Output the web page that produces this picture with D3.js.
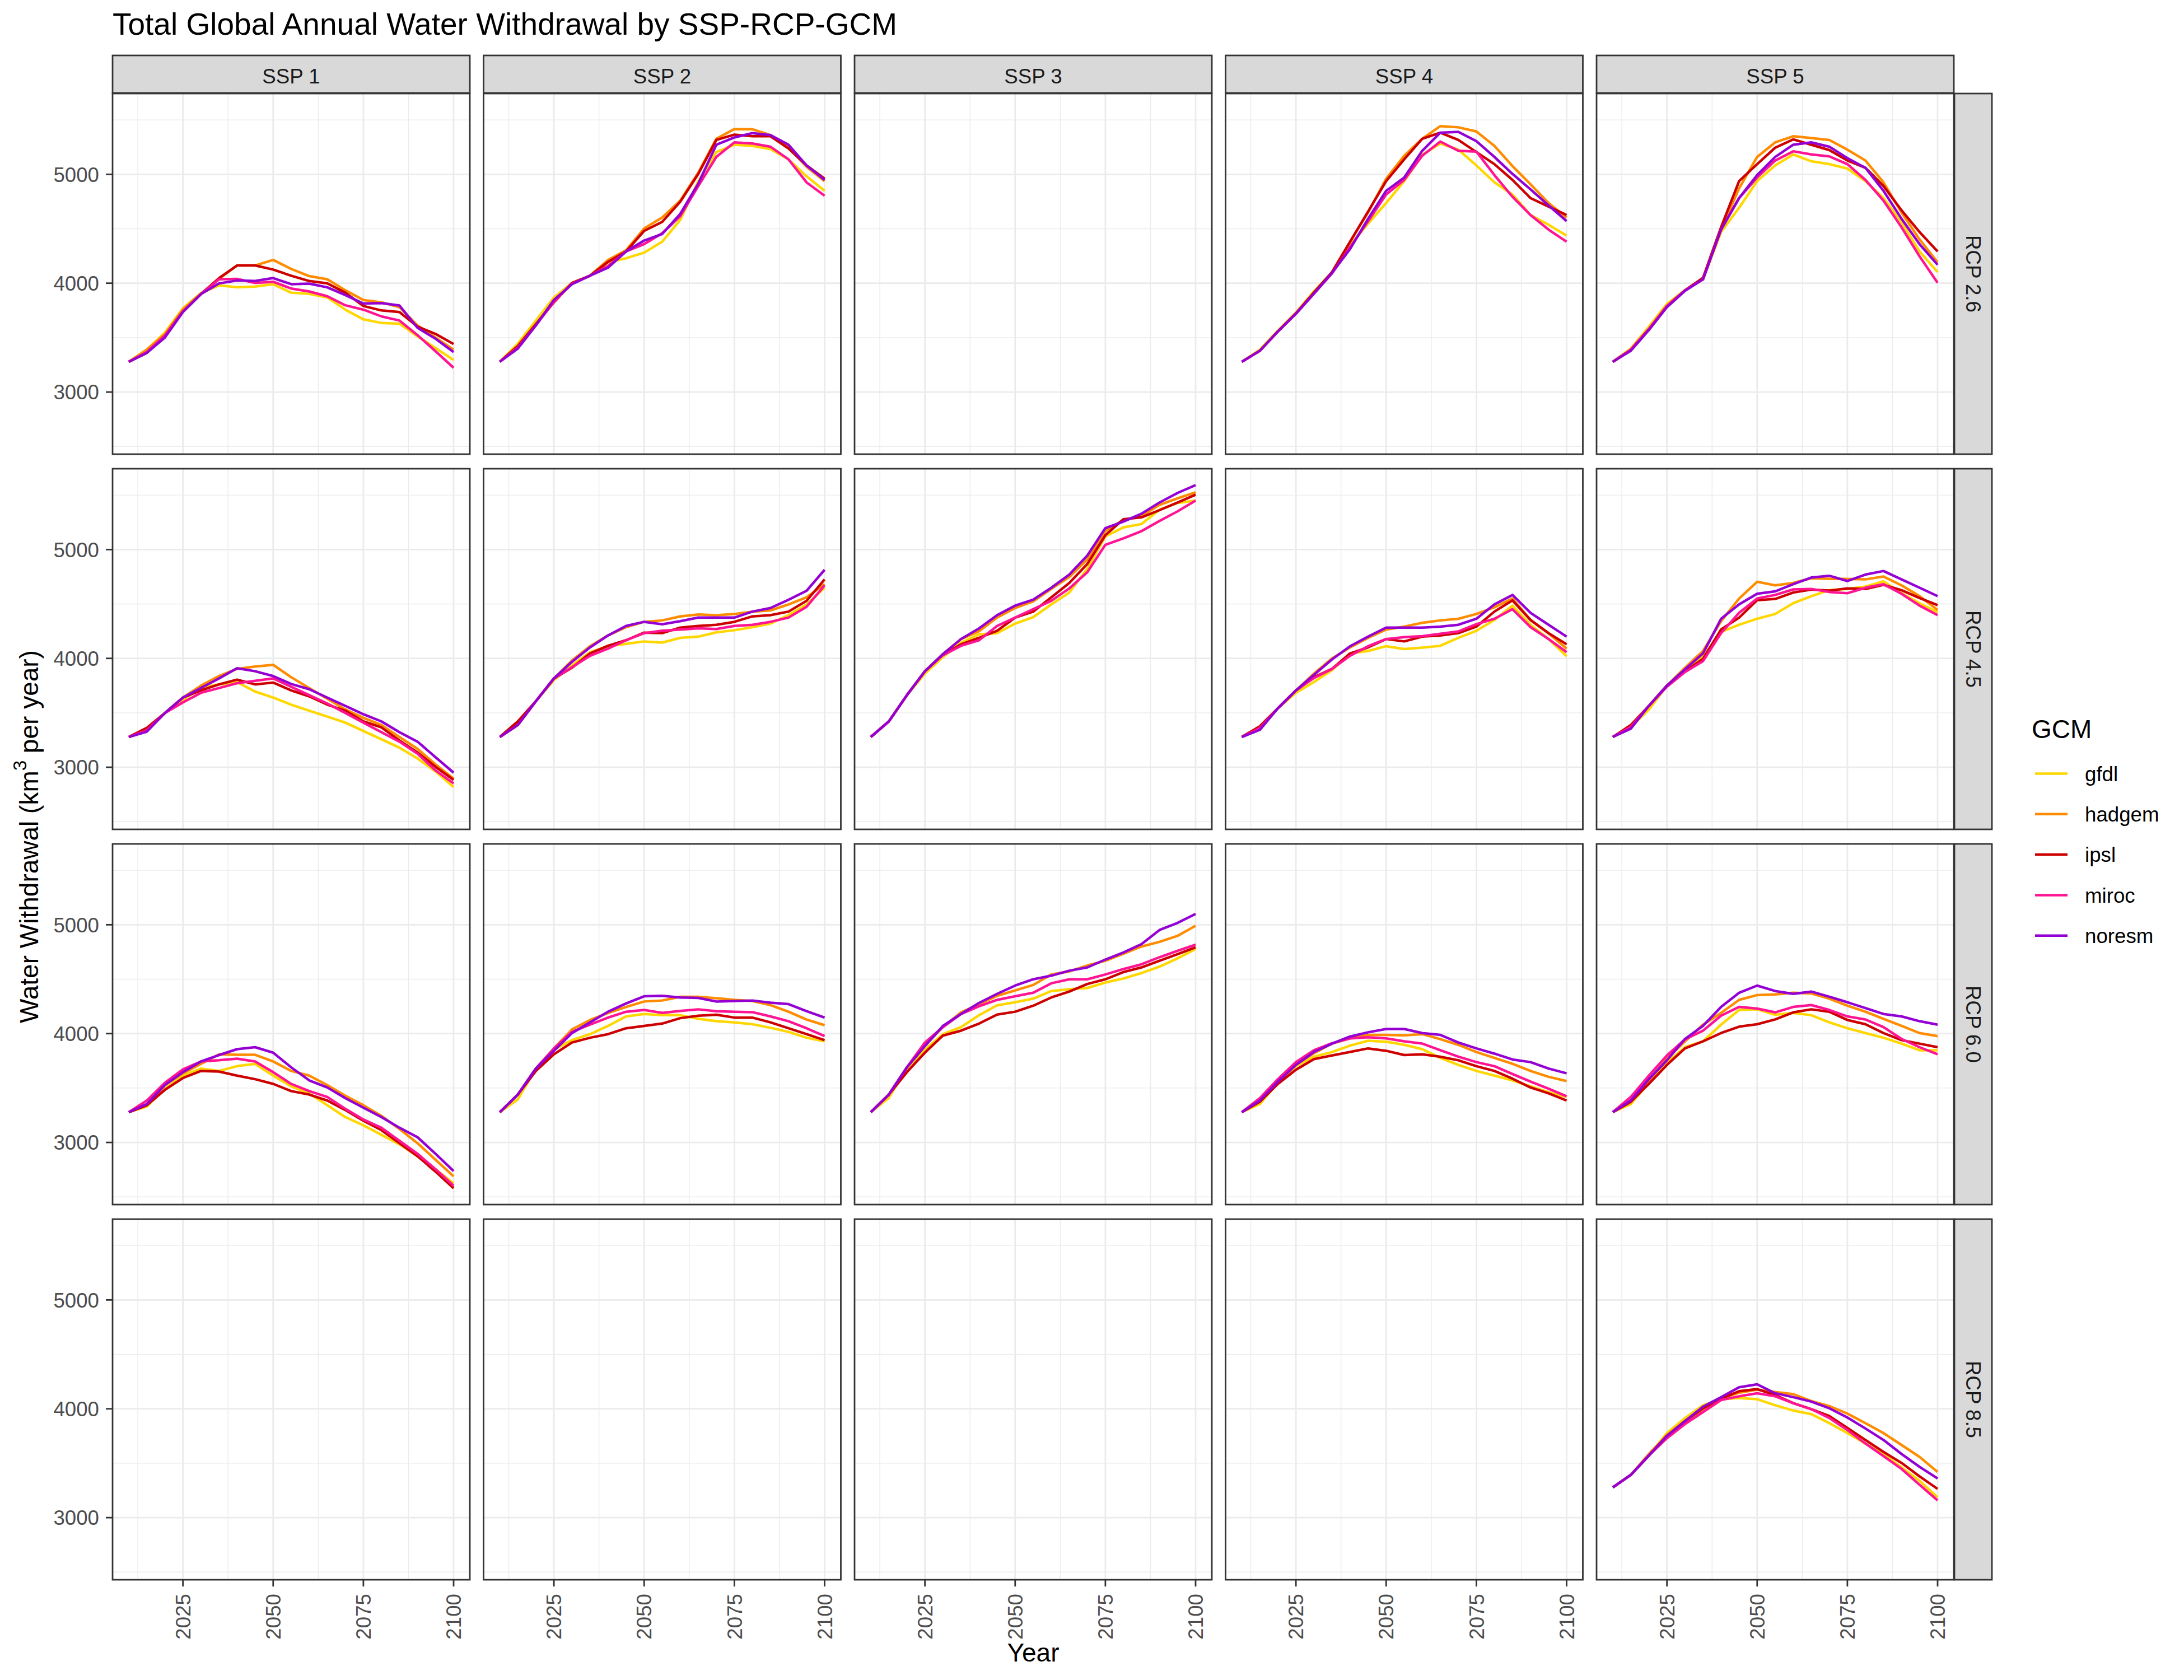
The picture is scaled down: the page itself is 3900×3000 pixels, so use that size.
<!DOCTYPE html>
<html><head><meta charset="utf-8">
<script src="https://cdn.jsdelivr.net/npm/d3@7"></script>
<style>body{margin:0;background:#fff}svg{display:block}</style>
</head><body>
<script>
// ---------------- data ----------------
const years = [2010,2015,2020,2025,2030,2035,2040,2045,2050,2055,2060,2065,2070,2075,2080,2085,2090,2095,2100];
const gcms = ["gfdl","hadgem","ipsl","miroc","noresm"];
const gcmColors = ["#FFD700","#FF8C00","#CD0000","#FF1493","#9400D3"];
const ssps = ["SSP 1","SSP 2","SSP 3","SSP 4","SSP 5"];
const rcps = ["RCP 2.6","RCP 4.5","RCP 6.0","RCP 8.5"];
const xTicks = [2025,2050,2075,2100];
const xMinor = [2012.5,2037.5,2062.5,2087.5];
const yTicks = [3000,4000,5000];
const yMinor = [2500,3500,4500,5500];

const SSP1_RCP26 = {
  gfdl:   [3278,3390,3546,3768,3910,3980,3962,3969,3991,3913,3902,3869,3757,3668,3635,3628,3512,3405,3294],
  hadgem: [3278,3390,3530,3760,3905,4040,4163,4163,4214,4131,4065,4036,3935,3846,3824,3780,3612,3500,3390],
  ipsl:   [3278,3360,3520,3740,3900,4047,4163,4163,4125,4069,4020,3998,3913,3791,3750,3735,3601,3534,3441],
  miroc:  [3278,3367,3520,3740,3900,4036,4040,4002,4013,3951,3924,3880,3797,3757,3695,3657,3523,3375,3223],
  noresm: [3278,3360,3501,3735,3900,3998,4025,4020,4047,3991,3996,3962,3891,3813,3817,3795,3590,3490,3367]
};
const SSP2_RCP26 = {
  gfdl:   [3278,3445,3657,3869,4002,4069,4192,4229,4281,4381,4581,4938,5205,5272,5261,5232,5138,4982,4849],
  hadgem: [3278,3423,3624,3830,4002,4069,4214,4303,4503,4604,4759,5016,5327,5416,5414,5361,5250,5070,4938],
  ipsl:   [3278,3423,3624,3824,4002,4069,4196,4292,4481,4563,4748,5004,5316,5365,5350,5350,5238,5082,4960],
  miroc:  [3278,3410,3615,3830,3995,4069,4158,4292,4359,4459,4615,4893,5160,5294,5283,5254,5138,4926,4804],
  noresm: [3278,3400,3612,3846,3991,4069,4143,4292,4392,4452,4637,4915,5272,5339,5379,5361,5272,5082,4949]
};
const SSP4_RCP26 = {
  gfdl:   [3278,3390,3565,3730,3925,4100,4350,4548,4737,4938,5180,5283,5227,5082,4927,4815,4626,4537,4437],
  hadgem: [3278,3380,3557,3724,3915,4102,4380,4650,4960,5171,5327,5443,5432,5394,5261,5076,4909,4737,4603],
  ipsl:   [3278,3379,3557,3724,3915,4102,4381,4659,4938,5138,5327,5383,5316,5205,5094,4949,4782,4704,4626],
  miroc:  [3278,3379,3557,3720,3905,4090,4330,4570,4815,4949,5171,5301,5216,5209,4993,4794,4626,4492,4381],
  noresm: [3278,3379,3557,3720,3905,4095,4314,4592,4849,4971,5216,5383,5390,5305,5160,5004,4862,4715,4570]
};
const SSP5_RCP26 = {
  gfdl:   [3278,3400,3600,3810,3935,4036,4470,4693,4938,5082,5183,5120,5094,5053,4938,4782,4560,4292,4102],
  hadgem: [3278,3390,3579,3791,3935,4036,4492,4871,5160,5294,5350,5334,5316,5227,5127,4927,4650,4403,4192],
  ipsl:   [3278,3390,3579,3791,3935,4050,4514,4938,5094,5245,5321,5272,5223,5127,5060,4893,4670,4470,4292],
  miroc:  [3278,3390,3579,3791,3935,4036,4492,4782,4971,5127,5212,5183,5165,5094,4949,4759,4514,4247,4004],
  noresm: [3278,3380,3570,3780,3930,4036,4492,4782,4993,5160,5272,5294,5254,5149,5060,4849,4592,4359,4169]
};
const SSP1_RCP45 = {
  gfdl:   [3278,3340,3498,3620,3730,3761,3783,3695,3640,3575,3520,3465,3410,3333,3257,3180,3081,2961,2818],
  hadgem: [3278,3345,3498,3640,3750,3838,3904,3925,3941,3827,3728,3629,3531,3454,3388,3278,3169,3026,2895],
  ipsl:   [3278,3362,3498,3640,3706,3761,3805,3761,3778,3706,3651,3575,3520,3421,3366,3246,3136,3004,2884],
  miroc:  [3278,3340,3498,3596,3684,3728,3772,3794,3816,3739,3662,3586,3498,3410,3322,3235,3125,2971,2851],
  noresm: [3278,3327,3498,3640,3728,3816,3910,3882,3838,3765,3717,3640,3564,3487,3421,3322,3235,3092,2950]
};
const SSP2_RCP45 = {
  gfdl:   [3278,3388,3607,3800,3936,4057,4112,4134,4156,4145,4189,4200,4239,4259,4287,4320,4397,4496,4649],
  hadgem: [3278,3388,3607,3816,3980,4112,4211,4287,4336,4349,4386,4404,4397,4408,4430,4441,4496,4561,4682],
  ipsl:   [3278,3421,3607,3816,3914,4046,4116,4167,4237,4232,4283,4298,4309,4336,4386,4397,4430,4529,4726],
  miroc:  [3278,3388,3607,3816,3919,4024,4090,4167,4232,4254,4265,4276,4270,4298,4309,4336,4375,4474,4671],
  noresm: [3278,3388,3607,3816,3969,4101,4211,4298,4336,4314,4342,4375,4375,4375,4430,4463,4539,4621,4814]
};
const SSP3_RCP45 = {
  gfdl:   [3278,3421,3662,3860,4013,4145,4221,4232,4320,4379,4496,4605,4825,5121,5204,5235,5366,5428,5450],
  hadgem: [3278,3421,3662,3882,4040,4178,4250,4375,4463,4524,4638,4748,4910,5170,5274,5307,5410,5471,5526],
  ipsl:   [3278,3421,3662,3882,4035,4129,4189,4254,4375,4430,4561,4693,4868,5132,5278,5296,5362,5432,5504],
  miroc:  [3278,3421,3662,3882,4030,4116,4167,4298,4375,4452,4529,4643,4792,5044,5103,5169,5263,5351,5450],
  noresm: [3278,3421,3662,3882,4040,4178,4276,4397,4485,4539,4649,4770,4945,5197,5257,5329,5432,5520,5592]
};
const SSP4_RCP45 = {
  gfdl:   [3278,3370,3542,3684,3783,3893,4046,4068,4112,4086,4099,4116,4189,4254,4353,4485,4309,4178,4020],
  hadgem: [3278,3370,3542,3706,3860,4000,4101,4189,4265,4292,4327,4349,4364,4408,4470,4550,4353,4230,4090],
  ipsl:   [3278,3377,3542,3706,3827,3904,4046,4101,4178,4156,4200,4211,4232,4292,4430,4533,4353,4232,4129],
  miroc:  [3278,3360,3542,3706,3820,3904,4024,4112,4178,4195,4204,4226,4248,4314,4364,4452,4287,4178,4057],
  noresm: [3278,3344,3542,3706,3849,3991,4112,4200,4283,4283,4283,4292,4309,4364,4496,4583,4419,4309,4200]
};
const SSP5_RCP45 = {
  gfdl:   [3278,3370,3530,3750,3900,4018,4243,4309,4364,4408,4507,4572,4627,4638,4660,4708,4599,4507,4424],
  hadgem: [3278,3370,3564,3750,3914,4068,4342,4550,4704,4671,4693,4737,4730,4730,4726,4752,4671,4572,4445],
  ipsl:   [3278,3388,3564,3750,3882,3996,4265,4375,4535,4546,4605,4632,4623,4643,4638,4676,4627,4555,4489],
  miroc:  [3278,3370,3564,3740,3875,3975,4232,4419,4550,4583,4634,4638,4610,4599,4649,4682,4594,4485,4397],
  noresm: [3278,3355,3564,3750,3900,4046,4364,4496,4594,4616,4682,4743,4759,4711,4770,4803,4726,4649,4572]
};
const SSP1_RCP60 = {
  gfdl:   [3278,3331,3494,3614,3679,3657,3701,3722,3614,3516,3450,3342,3233,3157,3070,2983,2874,2754,2624],
  hadgem: [3278,3342,3527,3635,3722,3810,3805,3805,3744,3657,3614,3527,3429,3342,3244,3124,2993,2841,2689],
  ipsl:   [3278,3342,3483,3592,3657,3651,3614,3581,3538,3472,3440,3385,3298,3200,3113,2993,2874,2732,2580],
  miroc:  [3278,3385,3548,3672,3744,3755,3770,3744,3646,3538,3472,3418,3309,3211,3135,3015,2896,2754,2602],
  noresm: [3278,3353,3527,3646,3744,3803,3857,3875,3825,3690,3570,3505,3407,3320,3233,3135,3048,2896,2737]
};
const SSP2_RCP60 = {
  gfdl:   [3278,3396,3679,3853,3940,3995,4071,4158,4180,4169,4169,4136,4114,4103,4086,4053,4016,3962,3929],
  hadgem: [3278,3440,3679,3864,4038,4125,4190,4245,4295,4304,4338,4338,4325,4310,4299,4262,4201,4129,4077],
  ipsl:   [3278,3440,3657,3810,3918,3962,3995,4049,4071,4092,4142,4164,4173,4147,4147,4103,4049,3995,3940],
  miroc:  [3278,3440,3679,3864,4016,4082,4147,4201,4217,4190,4208,4223,4206,4201,4197,4158,4114,4049,3977],
  noresm: [3278,3440,3679,3842,4005,4103,4201,4277,4343,4347,4332,4328,4295,4299,4304,4284,4271,4206,4147]
};
const SSP3_RCP60 = {
  gfdl:   [3278,3410,3680,3853,3995,4060,4169,4260,4288,4321,4391,4408,4419,4469,4506,4556,4615,4691,4778],
  hadgem: [3278,3440,3690,3890,4060,4195,4270,4347,4397,4447,4543,4571,4626,4669,4734,4800,4843,4898,4991],
  ipsl:   [3278,3440,3646,3825,3982,4027,4092,4175,4201,4256,4332,4386,4456,4499,4565,4608,4669,4730,4793],
  miroc:  [3278,3440,3690,3918,4060,4180,4251,4310,4343,4375,4462,4499,4499,4543,4593,4637,4702,4761,4817],
  noresm: [3278,3440,3690,3886,4071,4180,4282,4365,4441,4499,4532,4578,4608,4680,4745,4822,4952,5017,5100]
};
const SSP4_RCP60 = {
  gfdl:   [3278,3353,3550,3701,3788,3831,3890,3934,3925,3897,3857,3777,3712,3657,3614,3570,3516,3461,3418],
  hadgem: [3278,3374,3559,3712,3820,3908,3956,3988,3988,3984,3995,3949,3897,3831,3777,3723,3657,3603,3564],
  ipsl:   [3278,3374,3538,3668,3766,3799,3831,3864,3842,3803,3810,3788,3755,3701,3657,3586,3505,3451,3385],
  miroc:  [3278,3407,3581,3738,3847,3912,3956,3966,3956,3929,3908,3847,3788,3738,3701,3629,3559,3494,3424],
  noresm: [3278,3385,3559,3712,3831,3908,3973,4012,4042,4042,4005,3988,3918,3864,3816,3762,3738,3679,3635]
};
const SSP5_RCP60 = {
  gfdl:   [3278,3353,3550,3734,3875,3929,4082,4217,4223,4173,4190,4169,4103,4049,4005,3962,3908,3847,3847],
  hadgem: [3278,3370,3570,3770,3929,4082,4190,4310,4354,4360,4375,4369,4321,4256,4201,4136,4071,4005,3977],
  ipsl:   [3278,3374,3538,3712,3864,3929,4005,4064,4086,4130,4195,4223,4201,4125,4086,4005,3940,3908,3875],
  miroc:  [3278,3418,3614,3799,3947,4027,4164,4245,4230,4195,4245,4262,4217,4158,4130,4060,3951,3875,3810],
  noresm: [3278,3385,3581,3755,3951,4071,4245,4375,4441,4391,4365,4386,4339,4288,4234,4180,4158,4114,4082]
};
const SSP5_RCP85 = {
  gfdl:   [3278,3393,3571,3777,3915,4033,4088,4099,4088,4033,3984,3951,3868,3777,3681,3585,3462,3338,3187],
  hadgem: [3278,3393,3585,3760,3887,3989,4093,4148,4176,4154,4135,4071,4025,3956,3868,3777,3668,3558,3420],
  ipsl:   [3278,3393,3571,3750,3887,4005,4093,4162,4181,4126,4052,3997,3934,3824,3714,3604,3503,3379,3264],
  miroc:  [3278,3393,3571,3730,3860,3970,4080,4115,4143,4115,4052,3997,3915,3805,3681,3566,3448,3302,3159],
  noresm: [3278,3393,3571,3750,3887,4019,4107,4198,4225,4143,4107,4066,4005,3920,3819,3714,3585,3467,3360]
};

// which panel (ssp index, rcp index) holds which data table
const panelData = [
  [0,0,SSP1_RCP26],[1,0,SSP2_RCP26],[3,0,SSP4_RCP26],[4,0,SSP5_RCP26],
  [0,1,SSP1_RCP45],[1,1,SSP2_RCP45],[2,1,SSP3_RCP45],[3,1,SSP4_RCP45],[4,1,SSP5_RCP45],
  [0,2,SSP1_RCP60],[1,2,SSP2_RCP60],[2,2,SSP3_RCP60],[3,2,SSP4_RCP60],[4,2,SSP5_RCP60],
  [4,3,SSP5_RCP85]
];

// ---------------- layout ----------------
const WIDTH = 3900, HEIGHT = 3000;
const FONT = "'Liberation Sans', Arial, Helvetica, sans-serif";
const X0 = 201, COLP = 662.5, PW = 638;
const Y0 = 167, ROWP = 670, PH = 644;
const STRIP = 67;
const LW = 4.5, BORDER = 2.8, GRIDMAJ = 2.8, GRIDMIN = 1.4;

const svg = d3.select("body").append("svg")
  .attr("width", WIDTH).attr("height", HEIGHT)
  .style("font-family", FONT);
svg.append("rect").attr("width", WIDTH).attr("height", HEIGHT).attr("fill", "#fff");

const allVals = panelData.flatMap(p => gcms.flatMap(g => p[2][g]));
const ext = d3.extent(allVals);
const pad = (ext[1] - ext[0]) * 0.05;
const xExt = d3.extent(years);
const xPad = (xExt[1] - xExt[0]) * 0.05;

const x = d3.scaleLinear().domain([xExt[0] - xPad, xExt[1] + xPad]).range([0, PW]);
const y = d3.scaleLinear().domain([ext[0] - pad, ext[1] + pad]).range([PH, 0]);
const color = d3.scaleOrdinal().domain(gcms).range(gcmColors);
const line = d3.line().x((d, i) => x(years[i])).y(d => y(d));

// title
svg.append("text").attr("x", X0).attr("y", 62)
  .attr("font-size", 55).attr("fill", "#000")
  .text("Total Global Annual Water Withdrawal by SSP-RCP-GCM");

// panels
for (let r = 0; r < rcps.length; r++) {
  for (let c = 0; c < ssps.length; c++) {
    const px = X0 + c * COLP, py = Y0 + r * ROWP;
    const g = svg.append("g").attr("transform", `translate(${px},${py})`);
    g.append("rect").attr("width", PW).attr("height", PH).attr("fill", "#fff");
    // minor grid
    g.selectAll(".vmin").data(xMinor).join("line")
      .attr("x1", d => x(d)).attr("x2", d => x(d)).attr("y1", 0).attr("y2", PH)
      .attr("stroke", "#EBEBEB").attr("stroke-width", GRIDMIN);
    g.selectAll(".hmin").data(yMinor).join("line")
      .attr("y1", d => y(d)).attr("y2", d => y(d)).attr("x1", 0).attr("x2", PW)
      .attr("stroke", "#EBEBEB").attr("stroke-width", GRIDMIN);
    // major grid
    g.selectAll(".vmaj").data(xTicks).join("line")
      .attr("x1", d => x(d)).attr("x2", d => x(d)).attr("y1", 0).attr("y2", PH)
      .attr("stroke", "#EBEBEB").attr("stroke-width", GRIDMAJ);
    g.selectAll(".hmaj").data(yTicks).join("line")
      .attr("y1", d => y(d)).attr("y2", d => y(d)).attr("x1", 0).attr("x2", PW)
      .attr("stroke", "#EBEBEB").attr("stroke-width", GRIDMAJ);

    const pd = panelData.find(p => p[0] === c && p[1] === r);
    if (pd) {
      const clip = `clip-${r}-${c}`;
      g.append("clipPath").attr("id", clip).append("rect").attr("width", PW).attr("height", PH);
      const lg = g.append("g").attr("clip-path", `url(#${clip})`);
      gcms.forEach(name => {
        lg.append("path").attr("d", line(pd[2][name]))
          .attr("fill", "none").attr("stroke", color(name))
          .attr("stroke-width", LW).attr("stroke-linejoin", "round").attr("stroke-linecap", "butt");
      });
    }
    g.append("rect").attr("width", PW).attr("height", PH)
      .attr("fill", "none").attr("stroke", "#333333").attr("stroke-width", BORDER);

    // top strip
    if (r === 0) {
      const s = svg.append("g").attr("transform", `translate(${px},${py - STRIP - 1})`);
      s.append("rect").attr("width", PW).attr("height", STRIP)
        .attr("fill", "#D9D9D9").attr("stroke", "#333333").attr("stroke-width", BORDER);
      s.append("text").attr("x", PW / 2).attr("y", STRIP / 2 + 16)
        .attr("text-anchor", "middle").attr("font-size", 36.7).attr("fill", "#1A1A1A")
        .text(ssps[c]);
    }
    // right strip
    if (c === ssps.length - 1) {
      const sx = px + PW + 1;
      const s = svg.append("g").attr("transform", `translate(${sx},${py})`);
      s.append("rect").attr("width", STRIP).attr("height", PH)
        .attr("fill", "#D9D9D9").attr("stroke", "#333333").attr("stroke-width", BORDER);
      s.append("text").attr("transform", `translate(${STRIP / 2 - 13},${PH / 2}) rotate(90)`)
        .attr("text-anchor", "middle").attr("font-size", 36.7).attr("fill", "#1A1A1A")
        .text(rcps[r]);
    }
    // y axis
    if (c === 0) {
      const ya = svg.append("g").attr("transform", `translate(${px},${py})`);
      ya.selectAll("line").data(yTicks).join("line")
        .attr("x1", -12).attr("x2", 0).attr("y1", d => y(d)).attr("y2", d => y(d))
        .attr("stroke", "#333333").attr("stroke-width", BORDER);
      ya.selectAll("text").data(yTicks).join("text")
        .attr("x", -24).attr("y", d => y(d)).attr("dy", "0.36em")
        .attr("text-anchor", "end").attr("font-size", 36.7).attr("fill", "#4D4D4D")
        .text(d => d);
    }
    // x axis
    if (r === rcps.length - 1) {
      const xa = svg.append("g").attr("transform", `translate(${px},${py + PH})`);
      xa.selectAll("line").data(xTicks).join("line")
        .attr("x1", d => x(d)).attr("x2", d => x(d)).attr("y1", 0).attr("y2", 12)
        .attr("stroke", "#333333").attr("stroke-width", BORDER);
      xa.selectAll("text").data(xTicks).join("text")
        .attr("transform", d => `translate(${x(d)},25) rotate(-90)`)
        .attr("dy", "0.36em").attr("text-anchor", "end")
        .attr("font-size", 36.7).attr("fill", "#4D4D4D")
        .text(d => d);
    }
  }
}

// axis titles
const panelsRight = X0 + 4 * COLP + PW;
const panelsBottom = Y0 + 3 * ROWP + PH;
svg.append("text").attr("x", (X0 + panelsRight) / 2).attr("y", 2967)
  .attr("text-anchor", "middle").attr("font-size", 46).attr("fill", "#000").text("Year");
const yt = svg.append("text")
  .attr("transform", `translate(68,${(Y0 + panelsBottom) / 2}) rotate(-90)`)
  .attr("text-anchor", "middle").attr("font-size", 46).attr("fill", "#000");
yt.append("tspan").text("Water Withdrawal (km");
yt.append("tspan").attr("font-size", 33).attr("dy", -21).text("3");
yt.append("tspan").attr("dy", 21).text(" per year)");

// legend
const LX = 3628;
svg.append("text").attr("x", LX).attr("y", 1318).attr("font-size", 46).attr("fill", "#000").text("GCM");
const leg = svg.append("g").attr("transform", `translate(${LX},1381.5)`);
gcms.forEach((name, i) => {
  const gy = i * 72.3;
  leg.append("line").attr("x1", 6).attr("x2", 64).attr("y1", gy).attr("y2", gy)
    .attr("stroke", color(name)).attr("stroke-width", LW);
  leg.append("text").attr("x", 95).attr("y", gy).attr("dy", "0.36em")
    .attr("font-size", 36.7).attr("fill", "#000").text(name);
});
</script>
</body></html>
